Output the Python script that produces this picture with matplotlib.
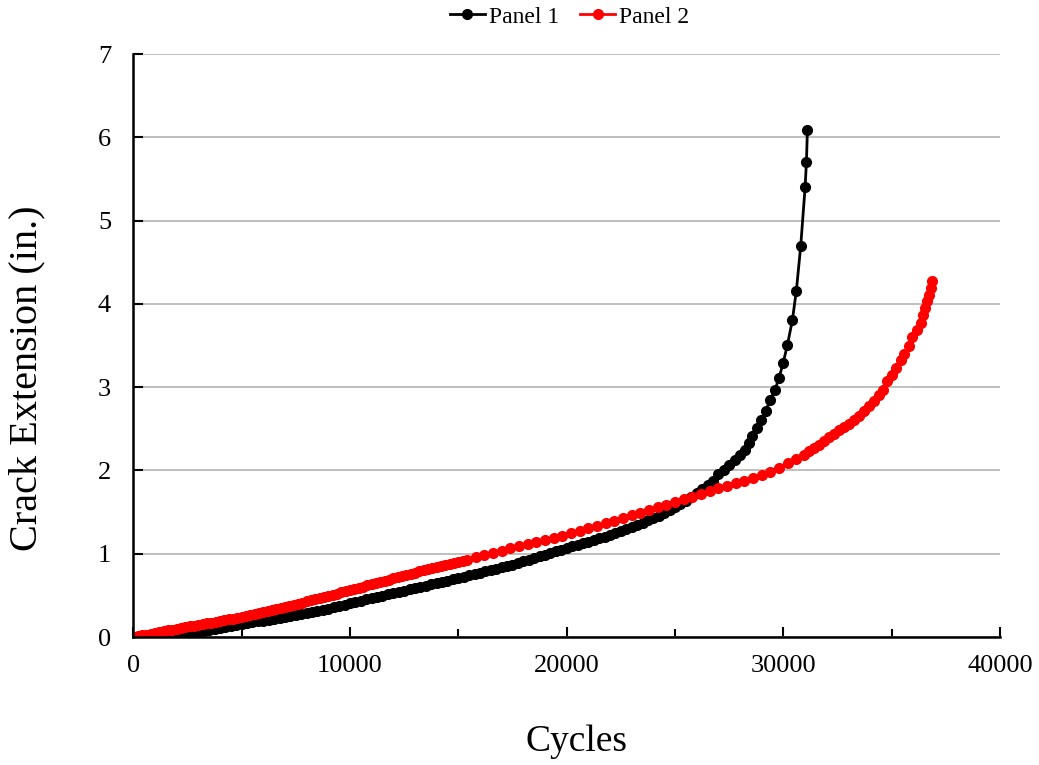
import matplotlib
matplotlib.use("Agg")
import matplotlib.pyplot as plt
from matplotlib.ticker import MultipleLocator

plt.rcParams["font.family"] = ["Liberation Serif", "DejaVu Serif"]

# Panel 1: cycles vs crack extension (in.)
panel1_cycles = [
    0, 250, 500, 750, 1000, 1250, 1500, 1750, 2000, 2250, 2500, 2750,
    3000, 3250, 3500, 3750, 4000, 4250, 4500, 4750, 5000, 5250, 5500, 5750,
    6000, 6250, 6500, 6750, 7000, 7250, 7500, 7750, 8000, 8250, 8500, 8750,
    9000, 9250, 9500, 9750, 10000, 10250, 10500, 10750, 11000, 11250, 11500, 11750,
    12000, 12250, 12500, 12750, 13000, 13250, 13500, 13750, 14000, 14250, 14500, 14750,
    15000, 15250, 15500, 15750, 16000, 16250, 16500, 16750, 17000, 17250, 17500, 17750,
    18000, 18250, 18500, 18750, 19000, 19250, 19500, 19750, 20000, 20250, 20500, 20750,
    21000, 21250, 21500, 21750, 22000, 22250, 22500, 22750, 23000, 23250, 23500, 23750,
    24000, 24250, 24500, 24750, 25000, 25250, 25500, 25750, 26000, 26250, 26500, 26750,
    27000, 27250, 27500, 27750, 28000, 28240, 28420, 28570, 28800, 28990, 29190, 29390,
    29620, 29800, 29990, 30190, 30420, 30600, 30800, 31005, 31065, 31110,
]
panel1_ext = [
    0.000, 0.000, 0.002, 0.004, 0.006, 0.009, 0.013, 0.018, 0.024, 0.032, 0.040, 0.050,
    0.061, 0.072, 0.085, 0.098, 0.112, 0.125, 0.137, 0.148, 0.158, 0.168, 0.178, 0.188,
    0.198, 0.208, 0.218, 0.228, 0.239, 0.250, 0.261, 0.273, 0.285, 0.297, 0.309, 0.322,
    0.338, 0.355, 0.372, 0.390, 0.405, 0.420, 0.435, 0.452, 0.469, 0.483, 0.497, 0.512,
    0.527, 0.542, 0.557, 0.572, 0.587, 0.601, 0.616, 0.631, 0.646, 0.661, 0.676, 0.692,
    0.708, 0.724, 0.740, 0.756, 0.772, 0.788, 0.804, 0.820, 0.836, 0.852, 0.868, 0.888,
    0.908, 0.928, 0.948, 0.968, 0.988, 1.008, 1.028, 1.048, 1.068, 1.087, 1.106, 1.126,
    1.145, 1.165, 1.185, 1.205, 1.225, 1.249, 1.273, 1.297, 1.322, 1.347, 1.373, 1.400,
    1.428, 1.457, 1.489, 1.522, 1.557, 1.595, 1.636, 1.680, 1.728, 1.775, 1.822, 1.870,
    1.960, 2.010, 2.060, 2.120, 2.180, 2.250, 2.330, 2.410, 2.510, 2.600, 2.710, 2.850,
    2.970, 3.110, 3.290, 3.510, 3.810, 4.160, 4.690, 5.405, 5.705, 6.090,
]

# Panel 2
panel2_cycles = [
    0, 200, 400, 600, 800, 1000, 1200, 1400, 1600, 1800, 2000, 2200,
    2400, 2600, 2800, 3000, 3200, 3400, 3600, 3800, 4000, 4200, 4400, 4600,
    4800, 5000, 5200, 5400, 5600, 5800, 6000, 6200, 6400, 6600, 6800, 7000,
    7200, 7400, 7600, 7800, 8000, 8200, 8400, 8600, 8800, 9000, 9200, 9400,
    9600, 9800, 10000, 10200, 10400, 10600, 10800, 11000, 11200, 11400, 11600, 11800,
    12000, 12200, 12400, 12600, 12800, 13000, 13200, 13400, 13600, 13800, 14000, 14200,
    14400, 14600, 14800, 15000, 15200, 15400, 15800, 16200, 16600, 17000, 17400, 17800,
    18200, 18600, 19000, 19400, 19800, 20200, 20600, 21000, 21400, 21800, 22200, 22600,
    23000, 23400, 23800, 24200, 24600, 25000, 25400, 25800, 26200, 26600, 27000, 27400,
    27800, 28200, 28600, 29000, 29400, 29800, 30230, 30600, 30960, 31190, 31420, 31650,
    31880, 32110, 32340, 32570, 32800, 33030, 33260, 33500, 33730, 33960, 34190, 34420,
    34600, 34800, 35000, 35190, 35420, 35570, 35800, 35960, 36190, 36340, 36450, 36540,
    36650, 36720, 36800, 36880,
]
panel2_ext = [
    0.000, 0.010, 0.020, 0.030, 0.040, 0.050, 0.060, 0.070, 0.080, 0.090, 0.100, 0.110,
    0.119, 0.128, 0.137, 0.146, 0.155, 0.164, 0.173, 0.182, 0.191, 0.201, 0.211, 0.222,
    0.233, 0.244, 0.255, 0.266, 0.277, 0.288, 0.299, 0.311, 0.323, 0.336, 0.349, 0.362,
    0.375, 0.388, 0.401, 0.414, 0.427, 0.440, 0.453, 0.466, 0.480, 0.494, 0.508, 0.522,
    0.536, 0.550, 0.564, 0.578, 0.592, 0.606, 0.619, 0.633, 0.647, 0.661, 0.675, 0.689,
    0.703, 0.717, 0.731, 0.745, 0.759, 0.773, 0.787, 0.800, 0.813, 0.826, 0.839, 0.852,
    0.865, 0.878, 0.891, 0.904, 0.917, 0.930, 0.956, 0.982, 1.009, 1.036, 1.063, 1.089,
    1.114, 1.139, 1.165, 1.191, 1.218, 1.246, 1.275, 1.305, 1.335, 1.366, 1.397, 1.428,
    1.460, 1.492, 1.525, 1.557, 1.589, 1.621, 1.653, 1.686, 1.719, 1.752, 1.784, 1.815,
    1.846, 1.877, 1.908, 1.945, 1.985, 2.030, 2.090, 2.140, 2.190, 2.230, 2.270, 2.310,
    2.350, 2.400, 2.440, 2.480, 2.520, 2.560, 2.610, 2.650, 2.710, 2.770, 2.830, 2.900,
    2.970, 3.070, 3.150, 3.230, 3.330, 3.400, 3.500, 3.600, 3.690, 3.770, 3.870, 3.950,
    4.030, 4.110, 4.190, 4.270,
]

fig = plt.figure(figsize=(10.39, 7.65), dpi=100)
ax = fig.add_axes([0.1283, 0.1673, 0.8342, 0.7621])

ax.plot(panel1_cycles, panel1_ext, color="black", lw=2.0, marker="o",
        markersize=7, label="Panel 1", zorder=3)
ax.plot(panel2_cycles, panel2_ext, color="#ff0000", lw=2.0, marker="o",
        markersize=7, label="Panel 2", zorder=4)

ax.set_xlim(0, 40000)
ax.set_ylim(0, 7)
ax.xaxis.set_major_locator(MultipleLocator(10000))
ax.xaxis.set_minor_locator(MultipleLocator(5000))
ax.yaxis.set_major_locator(MultipleLocator(1))

ax.grid(axis="y", color="#b4b4b4", lw=1.2)
ax.set_axisbelow(True)

for side in ("top", "right"):
    ax.spines[side].set_visible(False)
for side in ("left", "bottom"):
    ax.spines[side].set_linewidth(1.8)
    ax.spines[side].set_zorder(5)

ax.tick_params(axis="both", which="both", direction="in", width=1.5,
               labelsize=19, color="black")
ax.tick_params(axis="x", which="major", length=7, pad=13)
ax.tick_params(axis="x", which="minor", length=6)
ax.tick_params(axis="y", which="major", length=7, pad=16)

fig.text(0.026, 0.506, "Crack Extension (in.)", rotation=90, fontsize=29,
         ha="center", va="center")
fig.text(0.555, 0.03, "Cycles", fontsize=27, ha="center", va="center")

fig.legend(loc="center", bbox_to_anchor=(0.548, 0.978), ncol=2, frameon=False,
           fontsize=17, handlelength=1.5, handletextpad=0.15, columnspacing=0.9,
           borderaxespad=0)

plt.savefig("out.png", dpi=100)
plt.close()
